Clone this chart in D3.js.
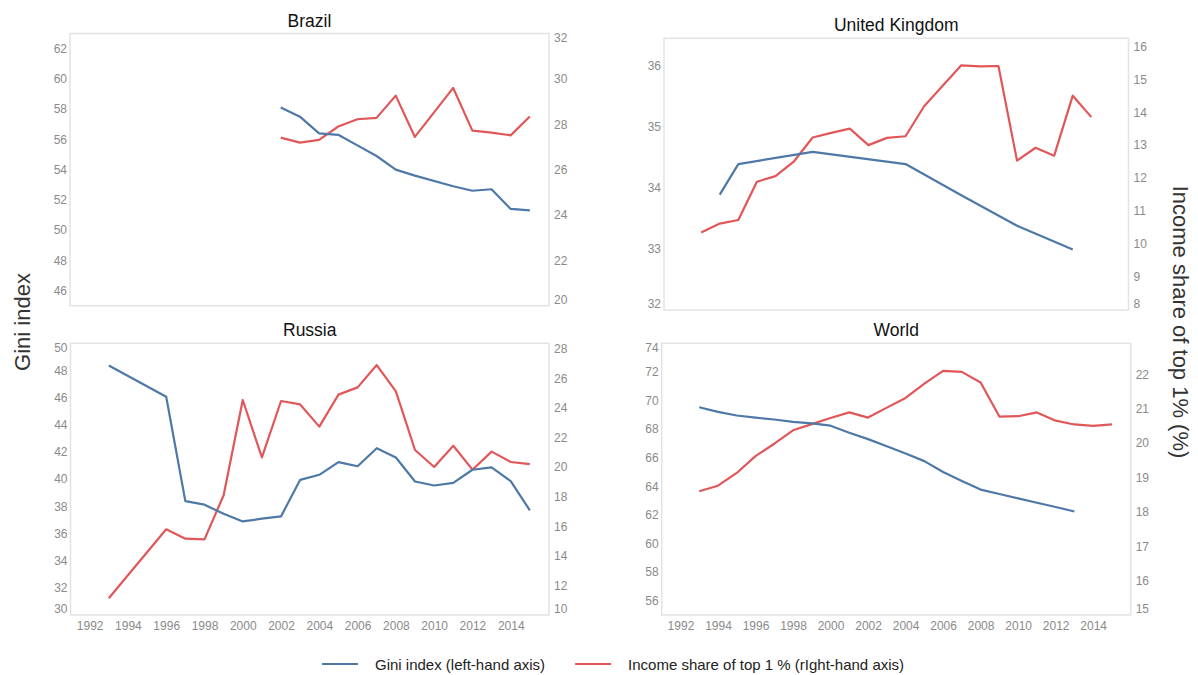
<!DOCTYPE html>
<html>
<head>
<meta charset="utf-8">
<script src="https://cdn.jsdelivr.net/npm/d3@7"></script>
<style>
  html, body { margin: 0; padding: 0; background: #fff; }
  svg { display: block; font-family: "Liberation Sans", Arial, Helvetica, sans-serif; }
</style>
</head>
<body>
<svg id="chart" width="1198" height="675"></svg>
<script>
// ---- Data ---------------------------------------------------------------
const yearTicks = [1992, 1994, 1996, 1998, 2000, 2002, 2004, 2006, 2008, 2010, 2012, 2014];
const yearDomain = [1991, 2016];

// Brazil
const brazilGiniYears = [2002, 2003, 2004, 2005, 2006, 2007, 2008, 2009, 2011, 2012, 2013, 2014, 2015];
const brazilGini      = [58.1, 57.5, 56.4, 56.3, 55.6, 54.9, 54.0, 53.6, 52.9, 52.6, 52.7, 51.4, 51.3];
const brazilTopYears  = [2002, 2003, 2004, 2005, 2006, 2007, 2008, 2009, 2011, 2012, 2013, 2014, 2015];
const brazilTop1      = [27.41, 27.19, 27.31, 27.90, 28.22, 28.28, 29.26, 27.44, 29.60, 27.72, 27.63, 27.51, 28.34];
const brazilLeftDomain = [45, 63];
const brazilRightDomain = [20, 32];
const brazilLeftTicks = [46, 48, 50, 52, 54, 56, 58, 60, 62];
const brazilRightTicks = [20, 22, 24, 26, 28, 30, 32];

// United Kingdom
const ukGiniYears = [1994, 1995, 1999, 2004, 2007, 2010, 2013];
const ukGini      = [33.89, 34.39, 34.59, 34.39, 33.88, 33.38, 32.99];
const ukTopYears  = [1993, 1994, 1995, 1996, 1997, 1998, 1999, 2000, 2001, 2002, 2003,
                     2004, 2005, 2006, 2007, 2008, 2009, 2010, 2011, 2012, 2013, 2014];
const ukTop1      = [10.35, 10.62, 10.73, 11.89, 12.06, 12.51, 13.23, 13.37, 13.50, 13.00, 13.22,
                     13.27, 14.18, 14.80, 15.42, 15.39, 15.40, 12.53, 12.92, 12.68, 14.50, 13.85];
const ukLeftDomain = [32, 36.45];
const ukRightDomain = [8, 16.24];
const ukLeftTicks = [32, 33, 34, 35, 36];
const ukRightTicks = [8, 9, 10, 11, 12, 13, 14, 15, 16];

// Russia
const russiaGiniYears = [1993, 1996, 1997, 1998, 1999, 2000, 2001, 2002, 2003, 2004, 2005,
                         2006, 2007, 2008, 2009, 2010, 2011, 2012, 2013, 2014, 2015];
const russiaGini      = [48.37, 46.07, 38.38, 38.12, 37.45, 36.89, 37.09, 37.26, 39.95, 40.32, 41.25,
                         40.95, 42.28, 41.59, 39.83, 39.53, 39.73, 40.69, 40.86, 39.85, 37.70];
const russiaTopYears  = [1993, 1996, 1997, 1998, 1999, 2000, 2001, 2002, 2003, 2004, 2005,
                         2006, 2007, 2008, 2009, 2010, 2011, 2012, 2013, 2014, 2015];
const russiaTop1      = [11.13, 15.79, 15.16, 15.11, 18.09, 24.53, 20.65, 24.46, 24.23, 22.73, 24.89,
                         25.38, 26.89, 25.11, 21.15, 20.00, 21.44, 19.82, 21.04, 20.34, 20.20];
const russiaLeftDomain = [30, 50];
const russiaRightDomain = [10, 28.36];
const russiaLeftTicks = [30, 32, 34, 36, 38, 40, 42, 44, 46, 48, 50];
const russiaRightTicks = [10, 12, 14, 16, 18, 20, 22, 24, 26, 28];

// World
const worldGiniYears = [1993, 1994, 1995, 1996, 1997, 1998, 1999, 2000, 2001, 2002, 2003,
                        2004, 2005, 2006, 2007, 2008, 2009, 2010, 2011, 2012, 2013];
const worldGini      = [69.53, 69.20, 68.95, 68.80, 68.67, 68.50, 68.40, 68.24, 67.75, 67.30, 66.80,
                        66.30, 65.76, 65.00, 64.37, 63.77, 63.46, 63.16, 62.85, 62.55, 62.24];
const worldTopYears  = [1993, 1994, 1995, 1996, 1997, 1998, 1999, 2000, 2001, 2002, 2003, 2004,
                        2005, 2006, 2007, 2008, 2009, 2010, 2011, 2012, 2013, 2014, 2015];
const worldTop1      = [18.60, 18.76, 19.13, 19.62, 19.98, 20.37, 20.55, 20.73, 20.89, 20.74, 21.03, 21.31,
                        21.73, 22.10, 22.07, 21.76, 20.77, 20.78, 20.89, 20.65, 20.54, 20.50, 20.54];
const worldLeftDomain = [55, 74];
const worldRightDomain = [15, 22.9];
const worldLeftTicks = [56, 58, 60, 62, 64, 66, 68, 70, 72, 74];
const worldRightTicks = [15, 16, 17, 18, 19, 20, 21, 22];

const legendLabels = ["Gini index (left-hand axis)", "Income share of top 1 % (rIght-hand axis)"];

// ---- Styling -------------------------------------------------------------
const giniColor = "#4e79a7";
const topColor = "#e15759";
const tickColor = "#8a8a8a";
const frameColor = "#e3e3e3";

const svg = d3.select("#chart");

const panels = [
  { title: "Brazil", box: [70, 33.5, 549, 305.7], showYears: false,
    giniYears: brazilGiniYears, gini: brazilGini, topYears: brazilTopYears, top: brazilTop1,
    leftDomain: brazilLeftDomain, rightDomain: brazilRightDomain,
    leftTicks: brazilLeftTicks, rightTicks: brazilRightTicks },
  { title: "United Kingdom", box: [664, 38.3, 1128.5, 310], showYears: false,
    giniYears: ukGiniYears, gini: ukGini, topYears: ukTopYears, top: ukTop1,
    leftDomain: ukLeftDomain, rightDomain: ukRightDomain,
    leftTicks: ukLeftTicks, rightTicks: ukRightTicks },
  { title: "Russia", box: [70.5, 343.3, 549, 615], showYears: true,
    giniYears: russiaGiniYears, gini: russiaGini, topYears: russiaTopYears, top: russiaTop1,
    leftDomain: russiaLeftDomain, rightDomain: russiaRightDomain,
    leftTicks: russiaLeftTicks, rightTicks: russiaRightTicks },
  { title: "World", box: [661.7, 343.3, 1130.7, 615], showYears: true,
    giniYears: worldGiniYears, gini: worldGini, topYears: worldTopYears, top: worldTop1,
    leftDomain: worldLeftDomain, rightDomain: worldRightDomain,
    leftTicks: worldLeftTicks, rightTicks: worldRightTicks }
];

const valueFormat = d3.format("~g");

function drawPanel(p) {
  const [x0, y0, x1, y1] = p.box;
  const g = svg.append("g");

  const x = d3.scaleLinear().domain(yearDomain).range([x0, x1]);
  const yL = d3.scaleLinear().domain(p.leftDomain).range([y1, y0]);
  const yR = d3.scaleLinear().domain(p.rightDomain).range([y1, y0]);

  // frame
  g.append("rect")
    .attr("x", x0).attr("y", y0)
    .attr("width", x1 - x0).attr("height", y1 - y0)
    .attr("fill", "none").attr("stroke", frameColor).attr("stroke-width", 1.5);

  // title
  g.append("text")
    .attr("x", (x0 + x1) / 2).attr("y", y0 - 7)
    .attr("text-anchor", "middle")
    .attr("font-size", 17.5).attr("fill", "#111")
    .text(p.title);

  // keep end labels inside the frame height
  const clampY = v => Math.max(y0 + 5, Math.min(y1 - 6, v));

  const leftAxis = d3.axisLeft(yL).tickValues(p.leftTicks).tickFormat(valueFormat)
    .tickSize(0).tickPadding(3);
  const gl = g.append("g").attr("transform", `translate(${x0},0)`).call(leftAxis);
  const rightAxis = d3.axisRight(yR).tickValues(p.rightTicks).tickFormat(valueFormat)
    .tickSize(0).tickPadding(5);
  const gr = g.append("g").attr("transform", `translate(${x1},0)`).call(rightAxis);

  [gl, gr].forEach(ax => {
    ax.select(".domain").remove();
    ax.selectAll(".tick").each(function () {
      const t = d3.select(this);
      const m = /translate\(([^,]+),([^)]+)\)/.exec(t.attr("transform"));
      t.attr("transform", `translate(0,${clampY(+m[2])})`);
    });
    ax.selectAll("text")
      .attr("font-size", 12).attr("fill", tickColor)
      .attr("font-family", "'Liberation Sans', Arial, sans-serif");
  });

  if (p.showYears) {
    const bottomAxis = d3.axisBottom(x).tickValues(yearTicks).tickFormat(d3.format("d"))
      .tickSize(0).tickPadding(6);
    const gb = g.append("g").attr("transform", `translate(0,${y1})`).call(bottomAxis);
    gb.select(".domain").remove();
    gb.selectAll("text")
      .attr("font-size", 12).attr("fill", tickColor)
      .attr("font-family", "'Liberation Sans', Arial, sans-serif");
  }

  const giniLine = d3.line().x(d => x(d[0])).y(d => yL(d[1]));
  const topLine = d3.line().x(d => x(d[0])).y(d => yR(d[1]));

  g.append("path")
    .datum(d3.zip(p.topYears, p.top))
    .attr("d", topLine)
    .attr("fill", "none").attr("stroke", topColor)
    .attr("stroke-width", 2.2).attr("stroke-linejoin", "round");

  g.append("path")
    .datum(d3.zip(p.giniYears, p.gini))
    .attr("d", giniLine)
    .attr("fill", "none").attr("stroke", giniColor)
    .attr("stroke-width", 2.2).attr("stroke-linejoin", "round");
}

panels.forEach(drawPanel);

// axis titles
svg.append("text")
  .attr("transform", "translate(22,322) rotate(-90)")
  .attr("text-anchor", "middle").attr("dominant-baseline", "central")
  .attr("font-size", 22).attr("fill", "#333")
  .text("Gini index");

svg.append("text")
  .attr("transform", "translate(1180,322) rotate(90)")
  .attr("text-anchor", "middle").attr("dominant-baseline", "central")
  .attr("font-size", 22).attr("fill", "#333")
  .text("Income share of top 1% (%)");

// legend
const legend = svg.append("g").attr("transform", "translate(322,0)");
const items = [
  { label: legendLabels[0], color: giniColor },
  { label: legendLabels[1], color: topColor }
];
const legendY = 664;
const swatch = 36, swatchGap = 17, itemGap = 30;
let cursor = 0;
items.forEach(it => {
  const lg = legend.append("g").attr("transform", `translate(${cursor},0)`);
  lg.append("line")
    .attr("x1", 0).attr("x2", swatch).attr("y1", legendY).attr("y2", legendY)
    .attr("stroke", it.color).attr("stroke-width", 2);
  const t = lg.append("text")
    .attr("x", swatch + swatchGap).attr("y", legendY).attr("dominant-baseline", "central")
    .attr("font-size", 15).attr("fill", "#222")
    .text(it.label);
  cursor += swatch + swatchGap + t.node().getComputedTextLength() + itemGap;
});
</script>
</body>
</html>
